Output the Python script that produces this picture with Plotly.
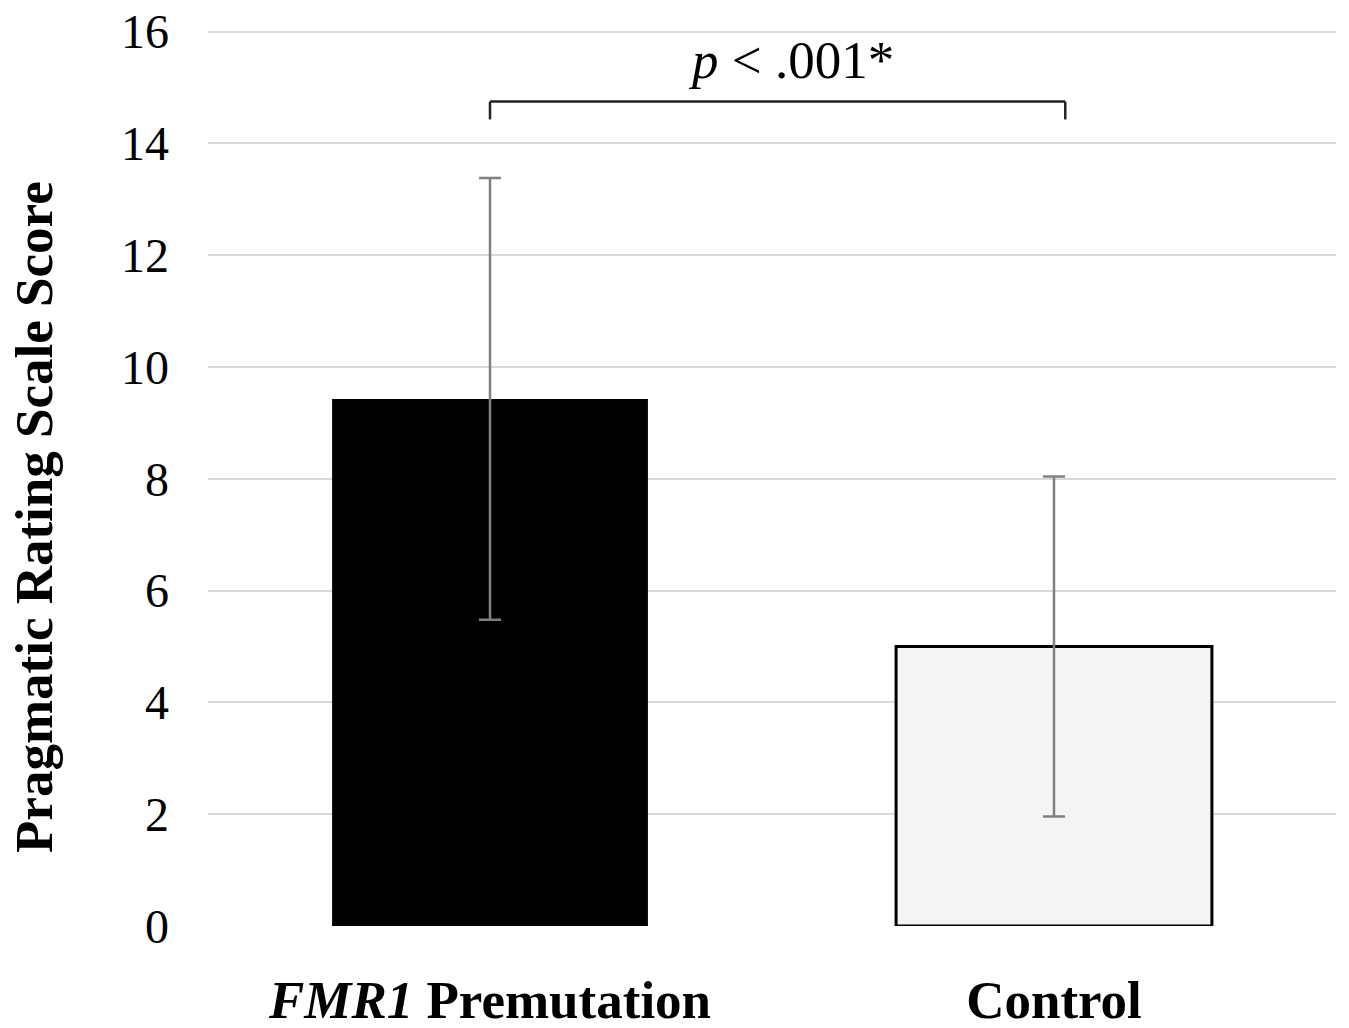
import plotly.graph_objects as go

categories = ["FMR1 Premutation", "Control"]
tick_labels = ["<b><i>FMR1</i> Premutation</b>", "<b>Control</b>"]
means = [9.43, 5.0]
errors = [3.95, 3.04]
y_ticks = [0, 2, 4, 6, 8, 10, 12, 14, 16]
p_text = "<i>p</i> < .001*"
y_title = "<b>Pragmatic Rating Scale Score</b>"

FONT = "Liberation Serif"

L, T = 208, 30
W, H = 1349, 1028
PW, PH = 1128, 896

fig = go.Figure()
fig.add_trace(go.Bar(
    x=categories, y=means,
    marker=dict(color=["#000000", "#f3f5f4"], line=dict(color="#000000", width=[0, 3])),
    error_y=dict(type="data", array=errors, visible=True, color="#808080", thickness=2.5, width=11),
    width=0.56,
))

fig.update_layout(
    width=W, height=H,
    margin=dict(l=L, r=W - L - PW, t=T, b=H - T - PH, autoexpand=False),
    plot_bgcolor="white", paper_bgcolor="white",
    showlegend=False,
    font=dict(family=FONT, color="#000000"),
    xaxis=dict(
        tickvals=categories, ticktext=tick_labels,
        tickfont=dict(size=53, family=FONT, color="#000000"),
        showline=False, showgrid=False, zeroline=False,
        ticks="", ticklabelstandoff=38, automargin=False,
        range=[-0.5, 1.5],
    ),
    yaxis=dict(
        range=[0, 16.03], tickvals=y_ticks,
        tickfont=dict(size=48, family=FONT, color="#000000"),
        showgrid=True, gridcolor="#d9d9d9", gridwidth=2,
        zeroline=False, showline=False, ticks="", ticklabelstandoff=38,
        automargin=False, ticklabeloverflow="allow",
    ),
)

fig.add_annotation(
    text=y_title, xref="paper", yref="paper",
    x=(34 - L) / PW, y=(T + PH - 517) / PH,
    textangle=-90, showarrow=False,
    font=dict(size=53, family=FONT, color="#000000"),
    xanchor="center", yanchor="middle",
)

fig.add_annotation(
    text=p_text, xref="paper", yref="y",
    x=(791 - L) / PW, y=15.5, showarrow=False,
    font=dict(size=53, family=FONT, color="#000000"),
    xanchor="center", yanchor="middle",
)

bracket_y = 14.75
bracket_drop = 14.43
x_left, x_right = 0, 1.02
line_style = dict(color="#222222", width=2.5)
fig.add_shape(type="line", xref="x", yref="y", x0=x_left, x1=x_right, y0=bracket_y, y1=bracket_y, line=line_style)
fig.add_shape(type="line", xref="x", yref="y", x0=x_left, x1=x_left, y0=bracket_y, y1=bracket_drop, line=line_style)
fig.add_shape(type="line", xref="x", yref="y", x0=x_right, x1=x_right, y0=bracket_y, y1=bracket_drop, line=line_style)

fig.write_html("out.html", config={"displayModeBar": False},
               post_script="document.body.style.margin='0';")
